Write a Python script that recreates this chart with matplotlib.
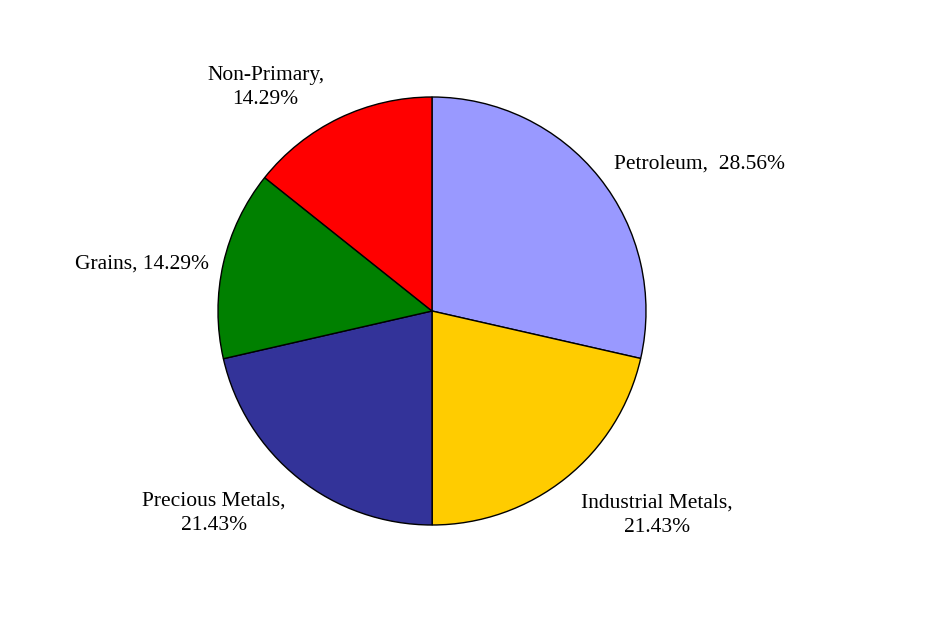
import numpy as np
import matplotlib.pyplot as plt

plt.rcParams['font.family'] = ['Liberation Serif', 'DejaVu Serif']

labels = ["Petroleum,  28.56%", "Industrial Metals,\n21.43%", "Precious Metals,\n21.43%",
          "Grains, 14.29%", "Non-Primary,\n14.29%"]
values = [28.56, 21.43, 21.43, 14.29, 14.29]
colors = ["#9999FF", "#FFCC00", "#333399", "#008000", "#FF0000"]

# label distance from centre (in radii), alignment and small nudges (points)
label_dist = [1.10, 1.17, 1.16, 1.07, 1.16]
label_ha = ["left", "left", "right", "right", "right"]
label_nudge = [(-1.5, 0), (-5, -6), (6, -6), (0, -3), (0, 0)]

fig = plt.figure(figsize=(9.41, 6.40), dpi=100)
ax = fig.add_axes([0, 0, 1, 1])
ax.axis("off")

wedges, _ = ax.pie(values, colors=colors, startangle=90, counterclock=False,
                   wedgeprops=dict(edgecolor="black", linewidth=1.0))

# labels at the mid angle of each slice
for w, lab, d, ha, nud in zip(wedges, labels, label_dist, label_ha, label_nudge):
    mid = np.deg2rad((w.theta1 + w.theta2) / 2)
    ax.annotate(lab, (d * np.cos(mid), d * np.sin(mid)), xytext=nud,
                textcoords="offset points", ha=ha, va="center",
                multialignment="center", linespacing=1.4, fontsize=15.5)

# centre at (432, 311) px, radius 214 px
r = 214.0
ax.set_xlim(-432 / r, (941 - 432) / r)
ax.set_ylim(-(640 - 311) / r, 311 / r)
ax.set_aspect("auto")

fig.savefig("out.png", dpi=100)
